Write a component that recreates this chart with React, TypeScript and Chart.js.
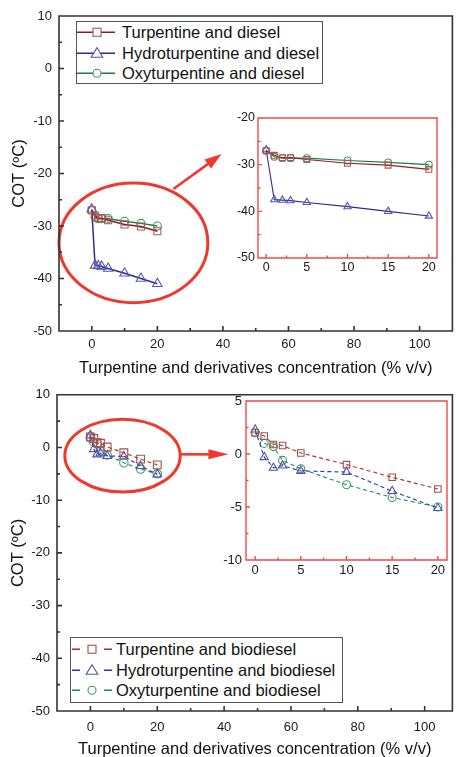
import React, { useEffect, useRef } from 'react';
import { Chart, registerables } from 'chart.js';

Chart.register(...registerables);

// ---------- data ----------
const concentrations = [0, 1, 2, 3, 5, 10, 15, 20];

const dieselTurpentine = [-27, -28, -28.5, -28.5, -28.9, -29.7, -30.1, -31];
const dieselHydroturpentine = [-26.8, -37.5, -37.6, -37.7, -38.1, -39, -40, -41];
const dieselOxyturpentine = [-27, -28.3, -28.6, -28.6, -28.6, -29.1, -29.5, -30];

const biodieselTurpentine = [2, 1.7, 0.9, 0.8, 0.1, -1.0, -2.2, -3.3];
const biodieselHydroturpentine = [2.3, -0.3, -1.3, -1.1, -1.6, -1.7, -3.5, -5.1];
const biodieselOxyturpentine = [2, 1.0, 0.7, -0.6, -1.4, -2.9, -4.1, -5.0];

const dieselLabels = ['Turpentine and diesel', 'Hydroturpentine and diesel', 'Oxyturpentine and diesel'];
const biodieselLabels = ['Turpentine and biodiesel', 'Hydroturpentine and biodiesel', 'Oxyturpentine and biodiesel'];

const mainXTicks = [0, 20, 40, 60, 80, 100];
const mainYTicks = [10, 0, -10, -20, -30, -40, -50];
const insetXTicks = [0, 5, 10, 15, 20];
const insetDieselYTicks = [-20, -30, -40, -50];
const insetBiodieselYTicks = [5, 0, -5, -10];

const xTitle = 'Turpentine and derivatives concentration (% v/v)';
const yTitle = 'COT (ºC)';

// ---------- styles ----------
const FONT = "'Liberation Sans', Arial, Helvetica, sans-serif";
const RED = '#f0392e';

type Shape = 'rect' | 'triangle' | 'circle';
type Style = { line: string; marker: string; shape: Shape };

const dieselStyles: Style[] = [
  { line: '#8e1f1f', marker: '#b05555', shape: 'rect' },
  { line: '#2d2d8c', marker: '#5656b5', shape: 'triangle' },
  { line: '#1c7a4c', marker: '#3e9c62', shape: 'circle' },
];
const biodieselStyles: Style[] = [
  { line: '#a03a3a', marker: '#a84e4e', shape: 'rect' },
  { line: '#3838a8', marker: '#5252b2', shape: 'triangle' },
  { line: '#2a8a5a', marker: '#3fa064', shape: 'circle' },
];

type Box = { left: number; top: number; width: number; height: number };
type Plot = { left: number; top: number; right: number; bottom: number };

function makeDatasets(
  series: number[][],
  labels: string[],
  styles: Style[],
  radii: Record<Shape, number>,
  lineWidth: number,
  dashed: boolean,
) {
  return series.map((values, i) => ({
    label: labels[i],
    data: concentrations.map((x, j) => ({ x, y: values[j] })),
    borderColor: styles[i].line,
    borderWidth: lineWidth,
    borderDash: dashed ? [4, 3] : [],
    pointStyle: styles[i].shape,
    pointRadius: radii[styles[i].shape],
    pointBorderColor: styles[i].marker,
    pointBackgroundColor: 'rgba(255,255,255,0)',
    pointBorderWidth: 1.1,
    tension: 0,
    fill: false,
  }));
}

// ---------- plugins ----------
const frameTicksPlugin = {
  id: 'frameTicks',
  afterDraw(chart: any, _args: any, o: any) {
    const { ctx, chartArea: a, scales } = chart;
    ctx.save();
    ctx.strokeStyle = o.color;
    ctx.lineWidth = o.width;
    const draw = (scale: any, majors: number[], minorStep: number, horizontal: boolean) => {
      const marks: [number, number][] = majors.map((v) => [v, o.majorLen]);
      if (minorStep) {
        const start = Math.ceil(scale.min / minorStep) * minorStep;
        for (let v = start; v <= scale.max + 1e-9; v += minorStep) {
          if (!majors.some((m) => Math.abs(m - v) < 1e-6)) marks.push([v, o.minorLen]);
        }
      }
      marks.forEach(([v, len]) => {
        const p = scale.getPixelForValue(v);
        if (horizontal) {
          if (p <= a.left + 1 || p >= a.right - 1) return;
          ctx.moveTo(p, a.bottom);
          ctx.lineTo(p, a.bottom - len);
        } else {
          if (p <= a.top + 1 || p >= a.bottom - 1) return;
          ctx.moveTo(a.left, p);
          ctx.lineTo(a.left + len, p);
        }
      });
    };
    ctx.beginPath();
    draw(scales.x, o.xMajor, o.xMinor, true);
    draw(scales.y, o.yMajor, o.yMinor, false);
    ctx.stroke();
    ctx.beginPath();
    ctx.rect(a.left, a.top, a.right - a.left, a.bottom - a.top);
    ctx.stroke();
    ctx.restore();
  },
};

const calloutPlugin = {
  id: 'callout',
  afterDatasetsDraw(chart: any, _args: any, o: any) {
    if (!o || !o.ellipse) return;
    const { ctx } = chart;
    const xs = chart.scales.x;
    const ys = chart.scales.y;
    const e = o.ellipse;
    const cx = xs.getPixelForValue(e.cx);
    const cy = ys.getPixelForValue(e.cy);
    const rx = Math.abs(xs.getPixelForValue(e.cx + e.rx) - cx);
    const ry = Math.abs(ys.getPixelForValue(e.cy + e.ry) - cy);
    ctx.save();
    ctx.strokeStyle = RED;
    ctx.fillStyle = RED;
    ctx.lineWidth = 3;
    ctx.beginPath();
    ctx.ellipse(cx, cy, rx, ry, 0, 0, Math.PI * 2);
    ctx.stroke();
    const ar = o.arrow;
    const x1 = xs.getPixelForValue(ar.x1);
    const y1 = ys.getPixelForValue(ar.y1);
    const x2 = xs.getPixelForValue(ar.x2);
    const y2 = ys.getPixelForValue(ar.y2);
    const ang = Math.atan2(y2 - y1, x2 - x1);
    const hl = ar.headLength;
    const hw = ar.headWidth;
    const bx = x2 - hl * Math.cos(ang);
    const by = y2 - hl * Math.sin(ang);
    ctx.lineWidth = 2.6;
    ctx.beginPath();
    ctx.moveTo(x1, y1);
    ctx.lineTo(bx + 2 * Math.cos(ang), by + 2 * Math.sin(ang));
    ctx.stroke();
    ctx.beginPath();
    ctx.moveTo(x2, y2);
    ctx.lineTo(bx + hw * Math.sin(ang), by - hw * Math.cos(ang));
    ctx.lineTo(bx - hw * Math.sin(ang), by + hw * Math.cos(ang));
    ctx.closePath();
    ctx.fill();
    ctx.restore();
  },
};

// ---------- config ----------
type Panel = {
  canvas: Box;
  plot: Plot;
  xMin: number;
  xMax: number;
  yMin: number;
  yMax: number;
  xTicks: number[];
  yTicks: number[];
  xMinor: number;
  yMinor: number;
  datasets: any[];
  tickSize: number;
  xTickPad: number;
  yTickPad: number;
  showTitles: boolean;
  xTitlePad: number;
  yTitlePad: number;
  frameColor: string;
  frameWidth: number;
  majorLen: number;
  minorLen: number;
  callout?: any;
};

function buildConfig(p: Panel): any {
  const yAxisWidth = p.plot.left - p.canvas.left;
  const xAxisHeight = p.canvas.top + p.canvas.height - p.plot.bottom;
  const tickFont = { family: FONT, size: p.tickSize };
  const titleFont = { family: FONT, size: 16.5 };
  return {
    type: 'line',
    data: { datasets: p.datasets },
    plugins: [frameTicksPlugin, calloutPlugin],
    options: {
      responsive: false,
      animation: false,
      devicePixelRatio: 1,
      layout: {
        padding: {
          top: p.plot.top - p.canvas.top,
          right: p.canvas.left + p.canvas.width - p.plot.right,
          left: 0,
          bottom: 0,
        },
      },
      plugins: {
        legend: { display: false },
        tooltip: { enabled: false },
        frameTicks: {
          color: p.frameColor,
          width: p.frameWidth,
          majorLen: p.majorLen,
          minorLen: p.minorLen,
          xMajor: p.xTicks,
          yMajor: p.yTicks,
          xMinor: p.xMinor,
          yMinor: p.yMinor,
        },
        callout: p.callout || {},
      },
      scales: {
        x: {
          type: 'linear',
          min: p.xMin,
          max: p.xMax,
          afterBuildTicks: (s: any) => {
            s.ticks = p.xTicks.map((value) => ({ value }));
          },
          afterFit: (s: any) => {
            s.height = xAxisHeight;
          },
          grid: { display: false, drawTicks: false },
          border: { display: false },
          ticks: {
            autoSkip: false,
            maxRotation: 0,
            padding: p.xTickPad,
            font: tickFont,
            color: '#1a1a1a',
            callback: (v: any) => String(v),
          },
          title: p.showTitles
            ? { display: true, text: xTitle, font: titleFont, color: '#111', padding: { top: 0, bottom: p.xTitlePad } }
            : { display: false },
        },
        y: {
          type: 'linear',
          min: p.yMin,
          max: p.yMax,
          afterBuildTicks: (s: any) => {
            s.ticks = p.yTicks.map((value) => ({ value }));
          },
          afterFit: (s: any) => {
            s.width = yAxisWidth;
          },
          grid: { display: false, drawTicks: false },
          border: { display: false },
          ticks: {
            autoSkip: false,
            padding: p.yTickPad,
            font: tickFont,
            color: '#1a1a1a',
            callback: (v: any) => String(v),
          },
          title: p.showTitles
            ? { display: true, text: yTitle, font: titleFont, color: '#111', padding: { top: p.yTitlePad, bottom: 0 } }
            : { display: false },
        },
      },
    },
  };
}

const mainRadii: Record<Shape, number> = { rect: 5, triangle: 5.5, circle: 4 };
const mainBioRadii: Record<Shape, number> = { rect: 5.5, triangle: 5, circle: 4.2 };
const insetTopRadii: Record<Shape, number> = { rect: 4.2, triangle: 4.2, circle: 3.4 };
const insetBotRadii: Record<Shape, number> = { rect: 4.6, triangle: 4.8, circle: 4 };

const dieselSeries = [dieselTurpentine, dieselHydroturpentine, dieselOxyturpentine];
const biodieselSeries = [biodieselTurpentine, biodieselHydroturpentine, biodieselOxyturpentine];

const panels: Panel[] = [
  {
    canvas: { left: 0, top: 0, width: 459, height: 380 },
    plot: { left: 59, top: 16, right: 458, bottom: 331 },
    xMin: -10, xMax: 110, yMin: -50, yMax: 10,
    xTicks: mainXTicks, yTicks: mainYTicks, xMinor: 10, yMinor: 5,
    datasets: makeDatasets(dieselSeries, dieselLabels, dieselStyles, mainRadii, 1.5, false),
    tickSize: 13, xTickPad: 6, yTickPad: 7, showTitles: true, xTitlePad: 2, yTitlePad: 10,
    frameColor: '#333', frameWidth: 1.6, majorLen: 5, minorLen: 3,
    callout: {
      ellipse: { cx: 12.7, cy: -33.2, rx: 22.7, ry: 11.4 },
      arrow: { x1: 24.9, y1: -22.95, x2: 39.6, y2: -16.3, headLength: 17, headWidth: 5.5 },
    },
  },
  {
    canvas: { left: 222, top: 104, width: 230, height: 180 },
    plot: { left: 258, top: 118, right: 437, bottom: 258 },
    xMin: -1, xMax: 21, yMin: -50, yMax: -20,
    xTicks: insetXTicks, yTicks: insetDieselYTicks, xMinor: 2.5, yMinor: 5,
    datasets: makeDatasets(dieselSeries, dieselLabels, dieselStyles, insetTopRadii, 1.1, false),
    tickSize: 12.5, xTickPad: 2, yTickPad: 3, showTitles: false, xTitlePad: 0, yTitlePad: 0,
    frameColor: '#f04a4a', frameWidth: 1.4, majorLen: 4, minorLen: 2.5,
  },
  {
    canvas: { left: 0, top: 380, width: 459, height: 390 },
    plot: { left: 57, top: 389, right: 458, bottom: 711 },
    xMin: -10, xMax: 108.3, yMin: -50, yMax: 10,
    xTicks: mainXTicks, yTicks: mainYTicks, xMinor: 10, yMinor: 5,
    datasets: makeDatasets(biodieselSeries, biodieselLabels, biodieselStyles, mainBioRadii, 1.2, true),
    tickSize: 13, xTickPad: 9, yTickPad: 7, showTitles: true, xTitlePad: 11, yTitlePad: 9,
    frameColor: '#333', frameWidth: 1.6, majorLen: 5, minorLen: 3,
    callout: {
      ellipse: { cx: 9.6, cy: -1.55, rx: 17.26, ry: 6.9 },
      arrow: { x1: 26.9, y1: -1.3, x2: 41.3, y2: -1.3, headLength: 20, headWidth: 5 },
    },
  },
  {
    canvas: { left: 212, top: 388, width: 243, height: 200 },
    plot: { left: 246, top: 401, right: 447, bottom: 560 },
    xMin: -1, xMax: 21, yMin: -10, yMax: 5,
    xTicks: insetXTicks, yTicks: insetBiodieselYTicks, xMinor: 2.5, yMinor: 2.5,
    datasets: makeDatasets(biodieselSeries, biodieselLabels, biodieselStyles, insetBotRadii, 1.1, true),
    tickSize: 13, xTickPad: 3, yTickPad: 4, showTitles: false, xTitlePad: 0, yTitlePad: 0,
    frameColor: '#f04a4a', frameWidth: 1.4, majorLen: 4, minorLen: 2.5,
  },
];

// ---------- components ----------
function ChartBox({ panel }: { panel: Panel }) {
  const ref = useRef<HTMLCanvasElement>(null);
  useEffect(() => {
    const chart = new Chart(ref.current as HTMLCanvasElement, buildConfig(panel));
    return () => chart.destroy();
  }, [panel]);
  const b = panel.canvas;
  return (
    <canvas
      ref={ref}
      width={b.width}
      height={b.height}
      style={{ position: 'absolute', left: b.left, top: b.top, width: b.width, height: b.height }}
    />
  );
}

function Marker({ shape, color, cx, cy, size }: { shape: Shape; color: string; cx: number; cy: number; size: number }) {
  const common = { fill: 'white', stroke: color, strokeWidth: 1.1 };
  if (shape === 'rect') return <rect x={cx - size / 2} y={cy - size / 2} width={size} height={size} {...common} />;
  if (shape === 'circle') return <circle cx={cx} cy={cy} r={size / 2} {...common} />;
  const h = size * 0.9;
  return (
    <polygon
      points={`${cx},${cy - h * 0.62} ${cx + size * 0.58},${cy + h * 0.45} ${cx - size * 0.58},${cy + h * 0.45}`}
      {...common}
    />
  );
}

type LegendProps = {
  box: Box;
  labels: string[];
  styles: Style[];
  dashed: boolean;
  paddingTop: number;
  textGap: number;
};

function LegendBox({ box, labels, styles, dashed, paddingTop, textGap }: LegendProps) {
  const rowH = 20.5;
  const svgW = dashed ? 42 : 40;
  return (
    <div
      style={{
        position: 'absolute',
        left: box.left,
        top: box.top,
        width: box.width,
        height: box.height,
        boxSizing: 'border-box',
        border: '1px solid #555',
        background: '#fff',
        paddingTop,
        fontFamily: FONT,
        fontSize: 16.5,
        color: '#111',
      }}
    >
      {labels.map((label, i) => {
        const s = styles[i];
        const cy = rowH / 2;
        const size = s.shape === 'triangle' ? 10 : 8;
        return (
          <div key={label} style={{ display: 'flex', alignItems: 'center', height: rowH, whiteSpace: 'nowrap' }}>
            <svg width={svgW} height={rowH} style={{ flex: 'none' }}>
              {dashed ? (
                <>
                  <line x1={1} y1={cy} x2={9} y2={cy} stroke={s.line} strokeWidth={1.6} />
                  <line x1={33} y1={cy} x2={41} y2={cy} stroke={s.line} strokeWidth={1.6} />
                  <Marker shape={s.shape} color={s.marker} cx={21} cy={cy} size={size} />
                </>
              ) : (
                <>
                  <line x1={0} y1={cy} x2={38} y2={cy} stroke={s.line} strokeWidth={1.6} />
                  <Marker shape={s.shape} color={s.marker} cx={20} cy={cy} size={size} />
                </>
              )}
            </svg>
            <span style={{ marginLeft: textGap, lineHeight: `${rowH}px` }}>{label}</span>
          </div>
        );
      })}
    </div>
  );
}

export default function App() {
  return (
    <div
      style={{
        position: 'absolute',
        left: 0,
        top: 0,
        width: 459,
        height: 757,
        overflow: 'hidden',
        background: '#fff',
      }}
    >
      {panels.map((p, i) => (
        <ChartBox key={i} panel={p} />
      ))}
      <LegendBox
        box={{ left: 76, top: 21, width: 247, height: 63 }}
        labels={dieselLabels}
        styles={dieselStyles}
        dashed={false}
        paddingTop={0}
        textGap={5}
      />
      <LegendBox
        box={{ left: 70, top: 637, width: 273, height: 66 }}
        labels={biodieselLabels}
        styles={biodieselStyles}
        dashed={true}
        paddingTop={1}
        textGap={3}
      />
    </div>
  );
}
